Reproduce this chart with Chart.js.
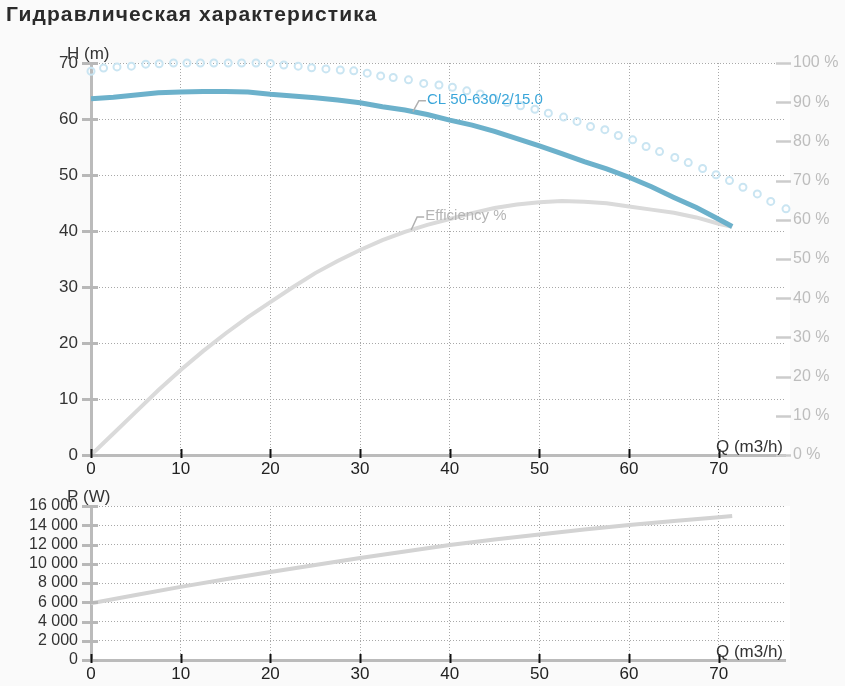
<!DOCTYPE html>
<html>
<head>
<meta charset="utf-8">
<script src="https://cdn.jsdelivr.net/npm/chart.js@4.4.1/dist/chart.umd.min.js"></script>
<style>
  html, body { margin: 0; padding: 0; background: #fafafa; }
  body { width: 845px; height: 686px; position: relative; overflow: hidden; font-family: "Liberation Sans", Arial, sans-serif; }
  #title { position: absolute; left: 6px; top: 2px; font-size: 21px; letter-spacing: 1.1px; font-weight: bold; color: #2b2b2b; z-index: 2; }
  #topBox { position: absolute; left: 0; top: 0; width: 845px; height: 482px; }
  #botBox { position: absolute; left: 0; top: 482px; width: 845px; height: 204px; }
</style>
</head>
<body>
<div id="title">Гидравлическая характеристика</div>
<div id="topBox"><canvas id="hChart"></canvas></div>
<div id="botBox"><canvas id="pChart"></canvas></div>
<script>
// Q-H кривая и КПД
const flowQ = [0, 2.5, 5, 7.5, 10, 12.5, 15, 17.5, 20, 22.5, 25, 27.5, 30, 32.5, 35, 37.5, 40, 42.5, 45, 47.5, 50, 52.5, 55, 57.5, 60, 62.5, 65, 67.5, 70, 71.5];
const headH = [63.6, 63.9, 64.3, 64.7, 64.8, 64.9, 64.9, 64.8, 64.4, 64.1, 63.8, 63.4, 62.9, 62.2, 61.6, 60.8, 59.8, 58.9, 57.8, 56.5, 55.2, 53.8, 52.4, 51.1, 49.6, 47.9, 46.0, 44.2, 42.1, 40.8];
const efficiency = [0, 5.5, 11, 16.5, 21.7, 26.5, 31, 35.2, 39, 42.8, 46.4, 49.5, 52.3, 54.8, 56.9, 58.7, 60.2, 61.7, 63, 63.9, 64.5, 64.8, 64.6, 64.2, 63.4, 62.6, 61.8, 60.6, 59, 58.2];

// кольца (верхняя кривая, %)
const ringQ = [0, 1.4, 2.9, 4.5, 6.1, 7.6, 9.2, 10.7, 12.2, 13.7, 15.3, 16.8, 18.4, 20.0, 21.5, 23.1, 24.6, 26.2, 27.8, 29.3, 30.8, 32.3, 33.7, 35.4, 37.1, 38.8, 40.3, 41.9, 43.4, 44.9, 46.4, 47.9, 49.5, 51.0, 52.7, 54.2, 55.7, 57.3, 58.8, 60.4, 61.9, 63.4, 65.1, 66.6, 68.2, 69.7, 71.2, 72.7, 74.3, 75.8, 77.5];
const ringVal = [97.9, 98.7, 99.0, 99.2, 99.7, 99.8, 100, 100, 100, 100, 100, 100, 100, 99.9, 99.5, 99.2, 98.8, 98.5, 98.2, 98.0, 97.4, 96.7, 96.3, 95.7, 94.8, 94.4, 93.8, 92.9, 92.1, 91.0, 89.9, 89.1, 88.2, 87.2, 86.2, 85.1, 83.8, 83.0, 81.5, 80.4, 78.7, 77.4, 75.9, 74.6, 73.1, 71.5, 70.0, 68.3, 66.6, 64.7, 62.8];

// мощность
const powerQ = [0, 5, 10, 15, 20, 25, 30, 35, 40, 45, 50, 55, 60, 65, 70, 71.5];
const powerW = [5900, 6760, 7600, 8380, 9150, 9880, 10600, 11280, 11950, 12520, 13050, 13550, 14030, 14430, 14820, 14950];

const xTicks = [0, 10, 20, 30, 40, 50, 60, 70];
const hTicks = [0, 10, 20, 30, 40, 50, 60, 70];
const pctTicks = [0, 10, 20, 30, 40, 50, 60, 70, 80, 90, 100];
const pTicks = [0, 2000, 4000, 6000, 8000, 10000, 12000, 14000, 16000];

const FONT = '"Liberation Sans", Arial, sans-serif';
const Q_MAX = 77.5;

function pairs(xs, ys) {
    return xs.map((x, i) => ({ x: x, y: ys[i] }));
}

function fmtThousands(v) {
    return String(v).replace(/\B(?=(\d{3})+(?!\d))/g, ' ');
}

function fixedTicks(list) {
    return function (scale) {
        scale.ticks = list.map(v => ({ value: v }));
    };
}

function gridStyle() {
    return {
        color: '#a8a8a8',
        lineWidth: ctx => (ctx.tick && ctx.tick.value === 0) ? 0 : 1,
        drawTicks: false
    };
}

// белая область графика, метки делений, подписи осей
function decorPlugin(opts) {
    return {
        id: 'decor',
        beforeDraw(chart) {
            const a = chart.chartArea, c = chart.ctx;
            c.save();
            c.fillStyle = '#ffffff';
            c.fillRect(a.left, a.top, a.right - a.left + 4, a.bottom - a.top);
            c.restore();
        },
        afterDraw(chart) {
            const a = chart.chartArea, c = chart.ctx;
            const sx = chart.scales.x, sy = chart.scales.y;
            c.save();
            c.lineCap = 'butt';
            // левая ось
            c.strokeStyle = '#b8b8b8';
            c.lineWidth = 3;
            sy.ticks.forEach(t => {
                const y = Math.round(sy.getPixelForValue(t.value)) + 0.5;
                c.beginPath(); c.moveTo(a.left - 9, y); c.lineTo(a.left + 7, y); c.stroke();
            });
            // правая ось
            if (chart.scales.y2) {
                const s2 = chart.scales.y2;
                c.strokeStyle = '#cccccc';
                c.lineWidth = 2.5;
                s2.ticks.forEach(t => {
                    const y = Math.round(s2.getPixelForValue(t.value)) + 0.5;
                    c.beginPath(); c.moveTo(a.right - 10, y); c.lineTo(a.right + 5, y); c.stroke();
                });
            }
            // ось Q
            c.strokeStyle = '#111';
            c.lineWidth = 2;
            sx.ticks.forEach(t => {
                const x = Math.round(sx.getPixelForValue(t.value)) + 0.5;
                c.beginPath(); c.moveTo(x, a.bottom - 6); c.lineTo(x, a.bottom + 3); c.stroke();
            });
            // подписи осей
            c.fillStyle = '#333';
            c.font = opts.titleFont + 'px ' + FONT;
            c.textBaseline = 'middle';
            c.textAlign = 'left';
            c.fillText(opts.yTitle, a.left - 24, a.top - 9);
            c.textAlign = 'right';
            c.fillText('Q (m3/h)', a.right - 3, a.bottom - 8);
            // подписи кривых с выносками
            (opts.callouts || []).forEach(l => {
                const s = chart.scales[l.axis];
                const px = sx.getPixelForValue(l.q), py = s.getPixelForValue(l.v);
                c.strokeStyle = '#b0b0b0';
                c.lineWidth = 1.5;
                c.beginPath();
                c.moveTo(px, py);
                c.lineTo(px + 6, py - l.rise);
                c.lineTo(px + 13, py - l.rise);
                c.stroke();
                c.fillStyle = l.color;
                c.font = '15px ' + FONT;
                c.textAlign = 'left';
                c.fillText(l.text, px + 14, py - l.rise - 1);
            });
            c.restore();
        }
    };
}

const xScale = {
    type: 'linear',
    min: 0,
    max: Q_MAX,
    afterBuildTicks: fixedTicks(xTicks),
    ticks: { color: '#222', font: { size: 17, family: FONT }, padding: 4, maxRotation: 0, autoSkip: false },
    grid: gridStyle(),
    border: { color: '#bbbbbb', width: 3, dash: [1, 2] }
};

const hChart = new Chart(document.getElementById('hChart'), {
    type: 'scatter',
    data: {
        datasets: [
            {
                label: 'CL 50-630/2/15.0',
                data: pairs(flowQ, headH),
                yAxisID: 'y',
                showLine: true,
                borderColor: '#6cb1cb',
                borderWidth: 5,
                pointRadius: 0,
                order: 1
            },
            {
                label: 'Efficiency %',
                data: pairs(flowQ, efficiency),
                yAxisID: 'y2',
                showLine: true,
                borderColor: '#dadada',
                borderWidth: 4,
                pointRadius: 0,
                order: 2
            },
            {
                label: 'rings',
                data: pairs(ringQ, ringVal),
                yAxisID: 'y2',
                showLine: false,
                pointStyle: 'circle',
                pointRadius: 3.5,
                pointBorderWidth: 2,
                pointBorderColor: '#cae5f2',
                pointBackgroundColor: 'rgba(255,255,255,0)',
                clip: 8,
                order: 3
            }
        ]
    },
    options: {
        responsive: true,
        maintainAspectRatio: false,
        animation: false,
        events: [],
        layout: { padding: { top: 63, left: 0, right: 0, bottom: 0 } },
        plugins: {
            legend: { display: false },
            tooltip: { enabled: false }
        },
        scales: {
            x: Object.assign({}, xScale, {
                afterFit: s => { s.height = 27; }
            }),
            y: {
                min: 0,
                max: 70,
                afterBuildTicks: fixedTicks(hTicks),
                afterFit: s => { s.width = 91; },
                ticks: { color: '#333', font: { size: 17, family: FONT }, padding: 13, autoSkip: false },
                grid: gridStyle(),
                border: { color: '#bbbbbb', width: 3, dash: [1, 2] }
            },
            y2: {
                position: 'right',
                min: 0,
                max: 100,
                afterBuildTicks: fixedTicks(pctTicks),
                afterFit: s => { s.width = 59; },
                ticks: {
                    color: '#bdbdbd',
                    font: { size: 16, family: FONT },
                    padding: 7,
                    autoSkip: false,
                    callback: v => v + ' %'
                },
                grid: { display: false, drawTicks: false },
                border: { display: false }
            }
        }
    },
    plugins: [decorPlugin({
        yTitle: 'H (m)',
        titleFont: 17,
        callouts: [
            { text: 'CL 50-630/2/15.0', q: 35.9, v: 61.3, axis: 'y', rise: 11, color: '#3aa6da' },
            { text: 'Efficiency %', q: 35.7, v: 57.4, axis: 'y2', rise: 13, color: '#b5b5b5' }
        ]
    })]
});

const pChart = new Chart(document.getElementById('pChart'), {
    type: 'scatter',
    data: {
        datasets: [
            {
                label: 'P',
                data: pairs(powerQ, powerW),
                showLine: true,
                borderColor: '#d3d3d3',
                borderWidth: 4,
                pointRadius: 0
            }
        ]
    },
    options: {
        responsive: true,
        maintainAspectRatio: false,
        animation: false,
        events: [],
        layout: { padding: { top: 24, left: 0, right: 59, bottom: 0 } },
        plugins: {
            legend: { display: false },
            tooltip: { enabled: false }
        },
        scales: {
            x: Object.assign({}, xScale, {
                afterFit: s => { s.height = 26; }
            }),
            y: {
                min: 0,
                max: 16000,
                afterBuildTicks: fixedTicks(pTicks),
                afterFit: s => { s.width = 91; },
                ticks: {
                    color: '#333',
                    font: { size: 16, family: FONT },
                    padding: 13,
                    autoSkip: false,
                    callback: v => fmtThousands(v)
                },
                grid: gridStyle(),
                border: { color: '#bbbbbb', width: 3, dash: [1, 2] }
            }
        }
    },
    plugins: [decorPlugin({ yTitle: 'P (W)', titleFont: 17 })]
});
</script>
</body>
</html>
